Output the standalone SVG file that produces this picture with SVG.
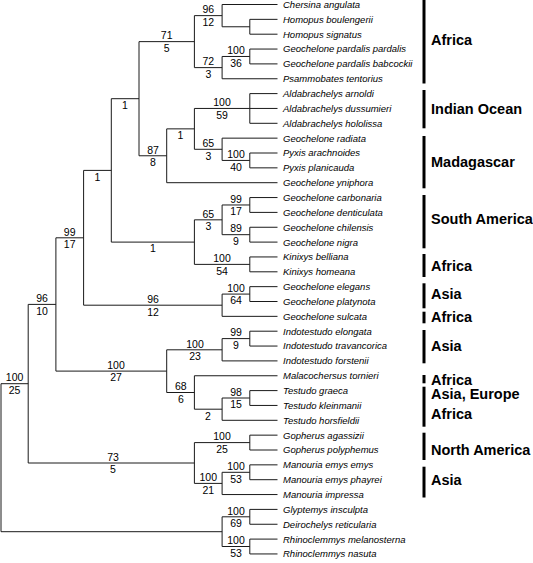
<svg xmlns="http://www.w3.org/2000/svg" width="533" height="563" viewBox="0 0 533 563">
<style>
.br{fill:none;stroke:#1a1a1a;stroke-width:1}
.t{font-family:"Liberation Sans",Arial,sans-serif;font-style:italic;font-size:9.5px;fill:#000}
.s{font-family:"Liberation Sans",Arial,sans-serif;font-size:10.5px;fill:#000;text-anchor:middle}
.r{font-family:"Liberation Sans",Arial,sans-serif;font-weight:bold;font-size:14.5px;fill:#000}
.bar{stroke:#000;stroke-width:3}
</style>
<rect width="533" height="563" fill="#fff"/>
<g id="connectors" class="br">
<path d="M1 383.7V531.7M1 383.7H28.2M1 531.7H222.1"/>
<path d="M222.1 516.8V546.5M222.1 516.8H249.8M222.1 546.5H249.8"/>
<path d="M249.8 509.4V524.25M249.8 509.4H277.5M249.8 524.25H277.5"/>
<path d="M249.8 539.1V553.95M249.8 539.1H277.5M249.8 553.95H277.5"/>
<path d="M28.2 304.4V463M28.2 304.4H55.9M28.2 463H194.4"/>
<path d="M194.4 442.6V483.4M194.4 442.6H249.8M194.4 483.4H222.1"/>
<path d="M249.8 435.15V450M249.8 435.15H277.5M249.8 450H277.5"/>
<path d="M222.1 472.3V494.55M222.1 472.3H249.8M222.1 494.55H277.5"/>
<path d="M249.8 464.85V479.7M249.8 464.85H277.5M249.8 479.7H277.5"/>
<path d="M55.9 237.8V371.1M55.9 237.8H83.6M55.9 371.1H166.7"/>
<path d="M166.7 349.8V392.5M166.7 349.8H222.1M166.7 392.5H194.4"/>
<path d="M222.1 338.6V360.9M222.1 338.6H249.8M222.1 360.9H277.5"/>
<path d="M249.8 331.2V346.05M249.8 331.2H277.5M249.8 346.05H277.5"/>
<path d="M194.4 375.75V409.2M194.4 375.75H277.5M194.4 409.2H222.1"/>
<path d="M222.1 398V420.3M222.1 398H249.8M222.1 420.3H277.5"/>
<path d="M249.8 390.6V405.45M249.8 390.6H277.5M249.8 405.45H277.5"/>
<path d="M83.6 170.4V305.2M83.6 170.4H111.3M83.6 305.2H222.1"/>
<path d="M222.1 294.08V316.35M222.1 294.08H249.8M222.1 316.35H277.5"/>
<path d="M249.8 286.65V301.5M249.8 286.65H277.5M249.8 301.5H277.5"/>
<path d="M111.3 98.7V242.1M111.3 98.7H139M111.3 242.1H194.4"/>
<path d="M194.4 219.83V264.38M194.4 219.83H222.1M194.4 264.38H249.8"/>
<path d="M222.1 204.98V234.68M222.1 204.98H249.8M222.1 234.68H249.8"/>
<path d="M249.8 197.55V212.4M249.8 197.55H277.5M249.8 212.4H277.5"/>
<path d="M249.8 227.25V242.1M249.8 227.25H277.5M249.8 242.1H277.5"/>
<path d="M249.8 256.95V271.8M249.8 256.95H277.5M249.8 271.8H277.5"/>
<path d="M139 41.63V155.78M139 41.63H194.4M139 155.78H166.7"/>
<path d="M194.4 15.64V67.61M194.4 15.64H222.1M194.4 67.61H222.1"/>
<path d="M222.1 4.5V26.78M222.1 4.5H277.5M222.1 26.78H249.8"/>
<path d="M249.8 19.35V34.2M249.8 19.35H277.5M249.8 34.2H277.5"/>
<path d="M222.1 56.48V78.75M222.1 56.48H249.8M222.1 78.75H277.5"/>
<path d="M249.8 49.05V63.9M249.8 49.05H277.5M249.8 63.9H277.5"/>
<path d="M166.7 128.87V182.7M166.7 128.87H194.4M166.7 182.7H277.5"/>
<path d="M194.4 108.45V149.29M194.4 108.45H249.8M194.4 149.29H222.1"/>
<path d="M249.8 93.6V123.3M249.8 93.6H277.5M249.8 108.45H277.5M249.8 123.3H277.5"/>
<path d="M222.1 138.15V160.43M222.1 138.15H277.5M222.1 160.43H249.8"/>
<path d="M249.8 153V167.85M249.8 153H277.5M249.8 167.85H277.5"/>
</g>
<g id="support">
<g id="s-ingroup"><text class="s" x="14.6" y="381.4">100</text><text class="s" x="14.6" y="394">25</text></g>
<g id="s-B"><text class="s" x="42" y="302.1">96</text><text class="s" x="42" y="314.7">10</text></g>
<g id="s-C"><text class="s" x="69.7" y="235.5">99</text><text class="s" x="69.7" y="248.1">17</text></g>
<g id="s-D"><text class="s" x="116" y="368.8">100</text><text class="s" x="116" y="381.4">27</text></g>
<g id="s-E"><text class="s" x="97.5" y="180.7">1</text></g>
<g id="s-G"><text class="s" x="125" y="109">1</text></g>
<g id="s-H"><text class="s" x="153" y="252.4">1</text></g>
<g id="s-I"><text class="s" x="166.7" y="39.3">71</text><text class="s" x="166.7" y="51.9">5</text></g>
<g id="s-J"><text class="s" x="153" y="153.5">87</text><text class="s" x="153" y="166.1">8</text></g>
<g id="s-K"><text class="s" x="180.5" y="139.2">1</text></g>
<g id="s-L"><text class="s" x="208.3" y="147">65</text><text class="s" x="208.3" y="159.6">3</text></g>
<g id="s-Pyx"><text class="s" x="236" y="158.1">100</text><text class="s" x="236" y="170.7">40</text></g>
<g id="s-Ald"><text class="s" x="222" y="106.2">100</text><text class="s" x="222" y="118.8">59</text></g>
<g id="s-M"><text class="s" x="208.3" y="13.3">96</text><text class="s" x="208.3" y="25.9">12</text></g>
<g id="s-N"><text class="s" x="208.3" y="65.3">72</text><text class="s" x="208.3" y="77.9">3</text></g>
<g id="s-Pard"><text class="s" x="236" y="54.2">100</text><text class="s" x="236" y="66.8">36</text></g>
<g id="s-O"><text class="s" x="208.3" y="217.5">65</text><text class="s" x="208.3" y="230.1">3</text></g>
<g id="s-CD"><text class="s" x="236" y="202.7">99</text><text class="s" x="236" y="215.3">17</text></g>
<g id="s-CN"><text class="s" x="236" y="232.4">89</text><text class="s" x="236" y="245">9</text></g>
<g id="s-Kin"><text class="s" x="222" y="262.1">100</text><text class="s" x="222" y="274.7">54</text></g>
<g id="s-F"><text class="s" x="153" y="302.9">96</text><text class="s" x="153" y="315.5">12</text></g>
<g id="s-EP"><text class="s" x="236" y="291.8">100</text><text class="s" x="236" y="304.4">64</text></g>
<g id="s-Indo"><text class="s" x="195" y="347.5">100</text><text class="s" x="195" y="360.1">23</text></g>
<g id="s-IP"><text class="s" x="236" y="336.3">99</text><text class="s" x="236" y="348.9">9</text></g>
<g id="s-TM"><text class="s" x="180.8" y="390.2">68</text><text class="s" x="180.8" y="402.8">6</text></g>
<g id="s-Test"><text class="s" x="208" y="419.5">2</text></g>
<g id="s-TP"><text class="s" x="236" y="395.7">98</text><text class="s" x="236" y="408.3">15</text></g>
<g id="s-GM"><text class="s" x="113" y="460.7">73</text><text class="s" x="113" y="473.3">5</text></g>
<g id="s-Goph"><text class="s" x="222" y="440.3">100</text><text class="s" x="222" y="452.9">25</text></g>
<g id="s-Man"><text class="s" x="208.3" y="481.1">100</text><text class="s" x="208.3" y="493.7">21</text></g>
<g id="s-ME"><text class="s" x="236" y="470">100</text><text class="s" x="236" y="482.6">53</text></g>
<g id="s-GD"><text class="s" x="236" y="514.5">100</text><text class="s" x="236" y="527.1">69</text></g>
<g id="s-RH"><text class="s" x="236" y="544.2">100</text><text class="s" x="236" y="556.8">53</text></g>
</g>
<g id="taxa">
<g id="t1"><text class="t" x="283" y="7.9">Chersina angulata</text></g>
<g id="t2"><text class="t" x="283" y="22.75">Homopus boulengerii</text></g>
<g id="t3"><text class="t" x="283" y="37.6">Homopus signatus</text></g>
<g id="t4"><text class="t" x="283" y="52.45">Geochelone pardalis pardalis</text></g>
<g id="t5"><text class="t" x="283" y="67.3">Geochelone pardalis babcockii</text></g>
<g id="t6"><text class="t" x="283" y="82.15">Psammobates tentorius</text></g>
<g id="t7"><text class="t" x="283" y="97">Aldabrachelys arnoldi</text></g>
<g id="t8"><text class="t" x="283" y="111.85">Aldabrachelys dussumieri</text></g>
<g id="t9"><text class="t" x="283" y="126.7">Aldabrachelys hololissa</text></g>
<g id="t10"><text class="t" x="283" y="141.55">Geochelone radiata</text></g>
<g id="t11"><text class="t" x="283" y="156.4">Pyxis arachnoides</text></g>
<g id="t12"><text class="t" x="283" y="171.25">Pyxis planicauda</text></g>
<g id="t13"><text class="t" x="283" y="186.1">Geochelone yniphora</text></g>
<g id="t14"><text class="t" x="283" y="200.95">Geochelone carbonaria</text></g>
<g id="t15"><text class="t" x="283" y="215.8">Geochelone denticulata</text></g>
<g id="t16"><text class="t" x="283" y="230.65">Geochelone chilensis</text></g>
<g id="t17"><text class="t" x="283" y="245.5">Geochelone nigra</text></g>
<g id="t18"><text class="t" x="283" y="260.35">Kinixys belliana</text></g>
<g id="t19"><text class="t" x="283" y="275.2">Kinixys homeana</text></g>
<g id="t20"><text class="t" x="283" y="290.05">Geochelone elegans</text></g>
<g id="t21"><text class="t" x="283" y="304.9">Geochelone platynota</text></g>
<g id="t22"><text class="t" x="283" y="319.75">Geochelone sulcata</text></g>
<g id="t23"><text class="t" x="283" y="334.6">Indotestudo elongata</text></g>
<g id="t24"><text class="t" x="283" y="349.45">Indotestudo travancorica</text></g>
<g id="t25"><text class="t" x="283" y="364.3">Indotestudo forstenii</text></g>
<g id="t26"><text class="t" x="283" y="379.15">Malacochersus tornieri</text></g>
<g id="t27"><text class="t" x="283" y="394">Testudo graeca</text></g>
<g id="t28"><text class="t" x="283" y="408.85">Testudo kleinmanii</text></g>
<g id="t29"><text class="t" x="283" y="423.7">Testudo horsfieldii</text></g>
<g id="t30"><text class="t" x="283" y="438.55">Gopherus agassizii</text></g>
<g id="t31"><text class="t" x="283" y="453.4">Gopherus polyphemus</text></g>
<g id="t32"><text class="t" x="283" y="468.25">Manouria emys emys</text></g>
<g id="t33"><text class="t" x="283" y="483.1">Manouria emys phayrei</text></g>
<g id="t34"><text class="t" x="283" y="497.95">Manouria impressa</text></g>
<g id="t35"><text class="t" x="283" y="512.8">Glyptemys insculpta</text></g>
<g id="t36"><text class="t" x="283" y="527.65">Deirochelys reticularia</text></g>
<g id="t37"><text class="t" x="283" y="542.5">Rhinoclemmys melanosterna</text></g>
<g id="t38"><text class="t" x="283" y="557.35">Rhinoclemmys nasuta</text></g>
</g>
<g id="regions">
<g id="r1"><line class="bar" x1="424" y1="0" x2="424" y2="83.5"/><text class="r" x="431" y="45.2">Africa</text></g>
<g id="r2"><line class="bar" x1="424" y1="90" x2="424" y2="128.3"/><text class="r" x="431" y="113.5">Indian Ocean</text></g>
<g id="r3"><line class="bar" x1="424" y1="136" x2="424" y2="188.3"/><text class="r" x="431" y="166.9">Madagascar</text></g>
<g id="r4"><line class="bar" x1="424" y1="195" x2="424" y2="248.3"/><text class="r" x="431" y="223.5">South America</text></g>
<g id="r5"><line class="bar" x1="424" y1="254" x2="424" y2="277"/><text class="r" x="431" y="270.5">Africa</text></g>
<g id="r6"><line class="bar" x1="424" y1="283.3" x2="424" y2="308.3"/><text class="r" x="431" y="299.2">Asia</text></g>
<g id="r7"><line class="bar" x1="424" y1="311.7" x2="424" y2="323.3"/><text class="r" x="431" y="321.9">Africa</text></g>
<g id="r8"><line class="bar" x1="424" y1="330" x2="424" y2="363.3"/><text class="r" x="431" y="351.2">Asia</text></g>
<g id="r9"><line class="bar" x1="424" y1="375" x2="424" y2="383.3"/><text class="r" x="431" y="384.5">Africa</text></g>
<g id="r10"><line class="bar" x1="424" y1="386.7" x2="424" y2="426.7"/><text class="r" x="431" y="399.2">Asia, Europe</text><text class="r" x="431" y="418.5">Africa</text></g>
<g id="r11"><line class="bar" x1="424" y1="432.7" x2="424" y2="460"/><text class="r" x="431" y="455.2">North America</text></g>
<g id="r12"><line class="bar" x1="424" y1="466.7" x2="424" y2="497.5"/><text class="r" x="431" y="484.5">Asia</text></g>
</g>
</svg>
